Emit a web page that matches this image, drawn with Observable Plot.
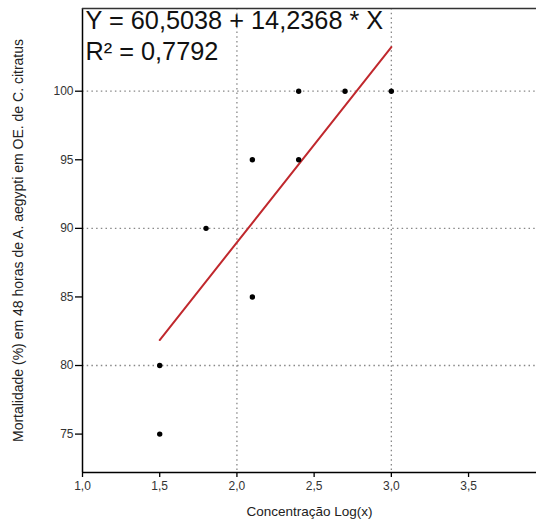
<!DOCTYPE html>
<html>
<head>
<meta charset="utf-8">
<script src="https://cdn.jsdelivr.net/npm/d3@7"></script>
<script src="https://cdn.jsdelivr.net/npm/@observablehq/plot@0.6"></script>
<style>
  html, body { margin: 0; padding: 0; background: #fff; }
  #chart svg { display: block; }
</style>
</head>
<body>
<div id="chart"></div>
<script>
// Observed points
const concLog = [1.5, 1.5, 1.8, 2.1, 2.1, 2.4, 2.4, 2.7, 3.0];
const mortality = [75, 80, 90, 85, 95, 95, 100, 100, 100];

// Fitted regression (as printed in the chart)
const intercept = 60.5038;
const slope = 14.2368;
const rSquared = 0.7792;
const fitRange = [1.5, 3.0];

// Ticks and grid
const xTicks = [1.0, 1.5, 2.0, 2.5, 3.0, 3.5];
const yTicks = [75, 80, 85, 90, 95, 100];
const xGrid = [2.0, 3.0];
const yGrid = [80, 90, 100];

const xLabel = "Concentração Log(x)";
const yLabel = "Mortalidade (%) em 48 horas de A. aegypti em OE. de C. citratus";

const comma = (v, d) => v.toFixed(d).replace(".", ",");
const eqText = `Y = ${comma(intercept, 4)} + ${comma(slope, 4)} * X\nR² = ${comma(rSquared, 4)}`;

const points = concLog.map((x, i) => ({x, y: mortality[i]}));
const fit = fitRange.map(x => ({x, y: intercept + slope * x}));

const chart = Plot.plot({
  width: 536,
  height: 522,
  marginLeft: 82,
  marginRight: 0,
  marginTop: 8,
  marginBottom: 50,
  style: {fontFamily: "'Liberation Sans', Arial, sans-serif", fontSize: "12px", color: "#000", background: "#fff"},
  x: {domain: [1, 3.94]},
  y: {domain: [72.2, 106.03]},
  marks: [
    Plot.ruleY(yGrid, {stroke: "#888", strokeWidth: 1.3, strokeDasharray: "1.5,3.2"}),
    Plot.ruleX(xGrid, {stroke: "#888", strokeWidth: 1.3, strokeDasharray: "1.5,3.2"}),
    Plot.axisX({ticks: xTicks, label: null, tickFormat: d => comma(d, 1), tickSize: 5, tickPadding: 4, fontSize: 12, fill: "#333", stroke: "#000", strokeWidth: 1.3}),
    Plot.axisX({ticks: [], label: xLabel, labelAnchor: "center", labelArrow: "none", labelOffset: 43, fontSize: 13.5, fill: "#222"}),
    Plot.axisY({ticks: yTicks, label: null, tickFormat: d => d, tickSize: 7, tickPadding: 2, fontSize: 12, fill: "#333", stroke: "#000", strokeWidth: 1.3}),
    Plot.axisY({ticks: [], label: yLabel, labelAnchor: "center", labelArrow: "none", labelOffset: 69, fontSize: 14, fill: "#222"}),
    Plot.ruleX([1], {stroke: "#000", strokeWidth: 1.5}),
    Plot.ruleY([72.2], {stroke: "#000", strokeWidth: 1.5}),
    Plot.ruleY([106.03], {stroke: "#333", strokeWidth: 1.5}),
    Plot.line(fit, {x: "x", y: "y", stroke: "#c0282d", strokeWidth: 2}),
    Plot.dot(points, {x: "x", y: "y", r: 2.7, fill: "#000", stroke: "none"}),
    Plot.text([eqText], {frameAnchor: "top-left", dx: 3, dy: -1.7, textAnchor: "start", lineAnchor: "top", lineHeight: 1.24, fontSize: 25.3, fill: "#111"})
  ]
});
document.getElementById("chart").appendChild(chart);
</script>
</body>
</html>
